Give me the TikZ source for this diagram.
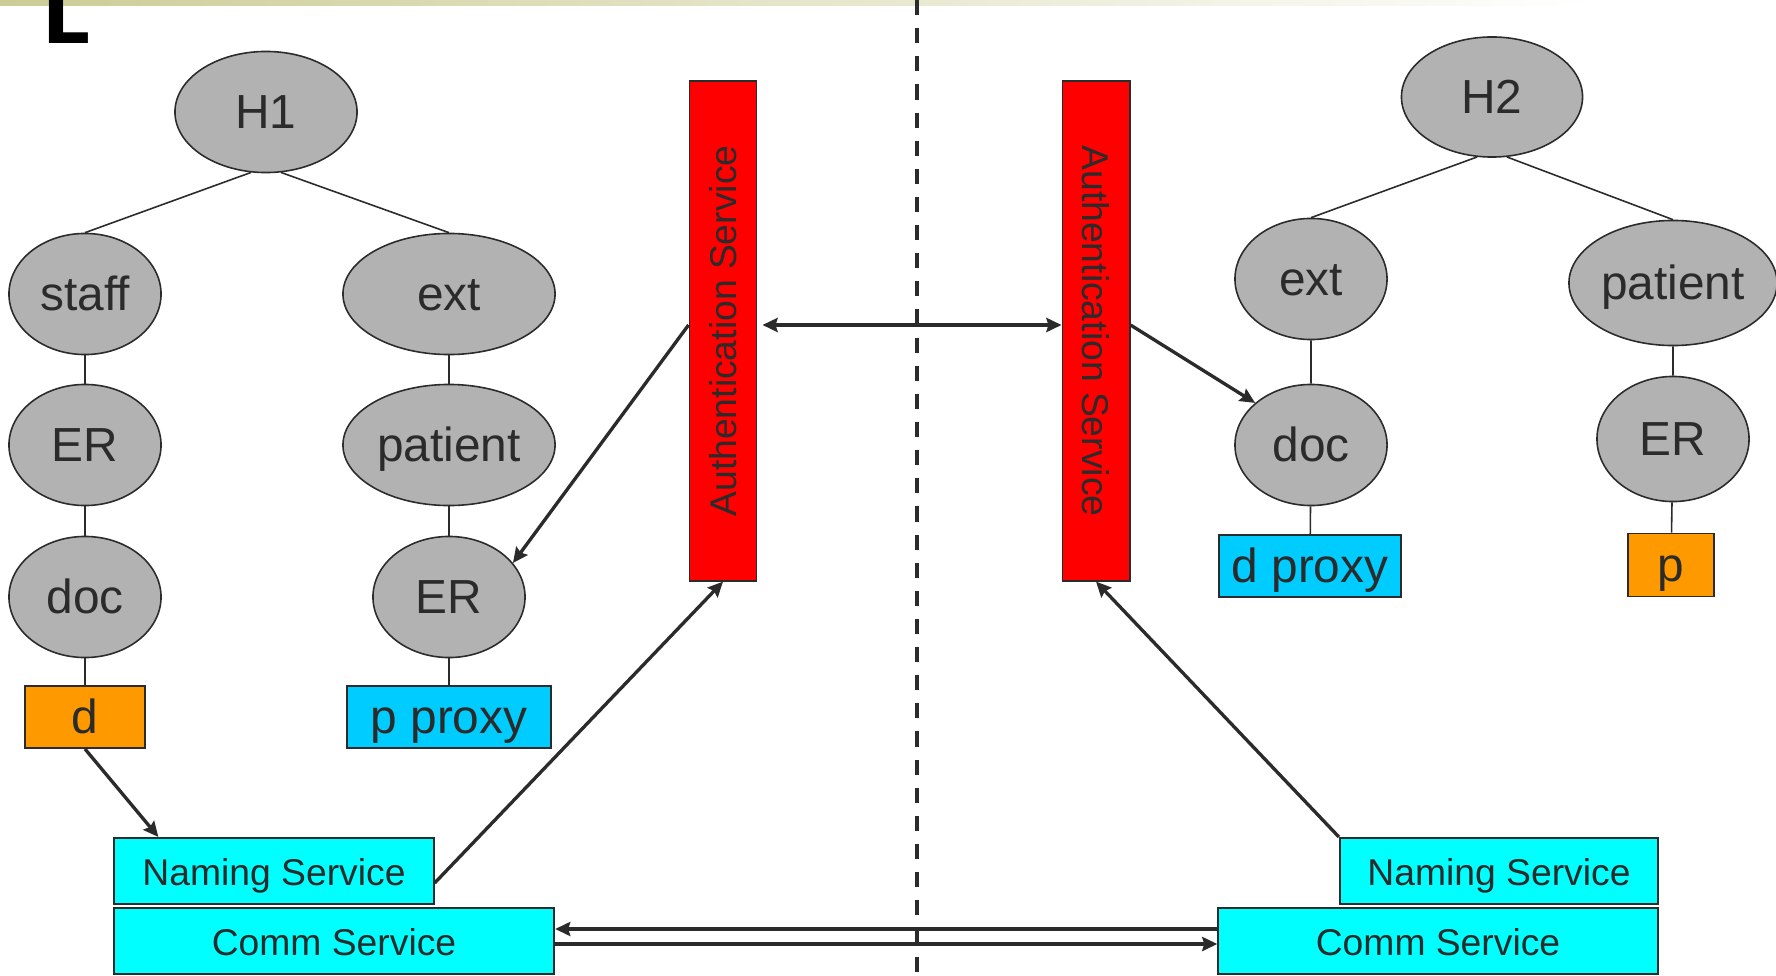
\documentclass[tikz,border=0pt]{standalone}
\usepackage{fontspec}
\setmainfont{Liberation Sans}
\newfontfamily\titlefont{DejaVu Sans Bold}
\usepackage{tikz}
\usetikzlibrary{arrows.meta,shapes.geometric,calc}
\usepackage{xcolor}
\definecolor{nodegrey}{RGB}{178,178,178}
\definecolor{inkgrey}{RGB}{43,43,43}
\definecolor{authred}{RGB}{255,0,0}
\definecolor{ownorange}{RGB}{255,153,0}
\definecolor{proxyblue}{RGB}{0,204,255}
\definecolor{svccyan}{RGB}{0,255,255}
\definecolor{barolive}{RGB}{204,204,150}

\begin{document}
\begin{tikzpicture}[x=0.01cm,y=-0.01cm,
  obj/.style={ellipse,draw=inkgrey,line width=0.45pt,fill=nodegrey,text=inkgrey,inner sep=0pt,
    minimum width=1.52cm,minimum height=1.21cm,font=\fontsize{13.6}{16}\selectfont,
    text height=0.94em,text depth=0pt},
  wideobj/.style={obj,minimum width=2.12cm},
  tag/.style={rectangle,draw=inkgrey,line width=0.55pt,text=inkgrey,inner sep=0pt,
    minimum height=0.62cm,font=\fontsize{13.6}{16}\selectfont,text height=0.94em,text depth=0pt},
  svc/.style={rectangle,draw=inkgrey,line width=0.6pt,fill=svccyan,text=inkgrey,inner sep=0pt,
    minimum height=0.66cm,font=\fontsize{10.6}{12}\selectfont,text height=0.85em,text depth=0pt},
  authbox/.style={rectangle,draw=inkgrey,line width=0.55pt,fill=authred,text=inkgrey,inner sep=0pt,
    minimum width=0.67cm,minimum height=4.99cm,font=\fontsize{10.6}{12}\selectfont},
  tree/.style={inkgrey,line width=0.45pt},
  tip/.tip={Stealth[length=4.3pt,width=4pt,inset=0.6pt]},
  link/.style={inkgrey,line width=0.95pt,-tip},
  twoway/.style={inkgrey,line width=0.95pt,tip-tip},
  divider/.style={inkgrey,line width=1.1pt,dash pattern=on 4.3pt off 3.7pt}]
\useasboundingbox (0,0) rectangle (1776,976);
% Title bar
\shade[left color=barolive,right color=white] (0,0) rectangle (1600,6);
\node[font=\titlefont\fontsize{21.4}{22}\selectfont,anchor=base west,inner sep=0pt] (titleL) at (42,44) {L};
% Host H1
\node[obj,minimum width=1.82cm] (H1) at (266,112) {H1};
\node[obj] (staff) at (85,294) {staff};
\node[obj] (ERs) at (85,445) {ER};
\node[obj] (docL) at (85,597) {doc};
\node[tag,fill=ownorange,minimum width=1.2cm] (dbox) at (85,717) {d};
\node[wideobj] (extL) at (449,294) {ext};
\node[wideobj] (patL) at (449,445) {patient};
\node[obj] (ERp) at (449,597) {ER};
\node[tag,fill=proxyblue,minimum width=2.04cm] (pproxy) at (449,717) {p proxy};
% Host H2
\node[obj,minimum width=1.81cm,minimum height=1.2cm] (H2) at (1492,97) {H2};
\node[obj] (extR) at (1311,279) {ext};
\node[obj] (docR) at (1311,445) {doc};
\node[tag,fill=proxyblue,minimum width=1.82cm] (dproxy) at (1310,566) {d proxy};
\node[wideobj,minimum width=2.08cm,minimum height=1.25cm] (patR) at (1673,283) {patient};
\node[obj,minimum height=1.25cm] (ERR) at (1673,439) {ER};
\node[tag,fill=ownorange,minimum width=0.86cm,minimum height=0.63cm] (pbox) at (1671,565) {p};
% Services
\node[authbox] (authL) at (723,331) {\rotatebox{90}{Authentication Service}};
\node[authbox] (authR) at (1096,331) {\rotatebox{-90}{Authentication Service}};
\node[svc,minimum width=3.19cm] (namingL) at (274,871) {Naming Service};
\node[svc,minimum width=4.40cm] (commL) at (334,941) {Comm Service};
\node[svc,minimum width=3.18cm] (namingR) at (1499,871) {Naming Service};
\node[svc,minimum width=4.39cm] (commR) at (1438,941) {Comm Service};
% Separator
\coordinate (divtop) at (917,0);
\coordinate (divbot) at (917,976);
\draw[divider] (divtop) -- (divbot);
% Tree edges
\draw[tree] (H1.-104) -- (staff.north);
\draw[tree] (H1.-76) -- (extL.north);
\draw[tree] (staff) -- (ERs) -- (docL) -- (dbox);
\draw[tree] (extL) -- (patL) -- (ERp) -- (pproxy);
\draw[tree] (H2.-104) -- (extR.north);
\draw[tree] (H2.-76) -- (patR.north);
\draw[tree] (extR) -- (docR) -- (dproxy);
\draw[tree] (patR) -- (ERR) -- (pbox);
% Messages
\draw[link] ([yshift=0.06cm]authL.west) -- (ERp.28);
\draw[twoway] ([yshift=0.06cm,xshift=0.05cm]authL.east) -- ([yshift=0.06cm]authR.west);
\draw[link] ([yshift=0.06cm]authR.east) -- (docR.143);
\draw[link] (dbox.south) -- ([xshift=0.45cm]namingL.north west);
\draw[link] ([yshift=-0.12cm]namingL.east) -- (authL.south);
\draw[link] (namingR.north west) -- (authR.south);
\draw[link] ([yshift=0.12cm]commR.west) -- ([yshift=0.12cm]commL.east);
\draw[link] ([yshift=-0.03cm]commL.east) -- ([yshift=-0.03cm]commR.west);
\end{tikzpicture}
\end{document}
